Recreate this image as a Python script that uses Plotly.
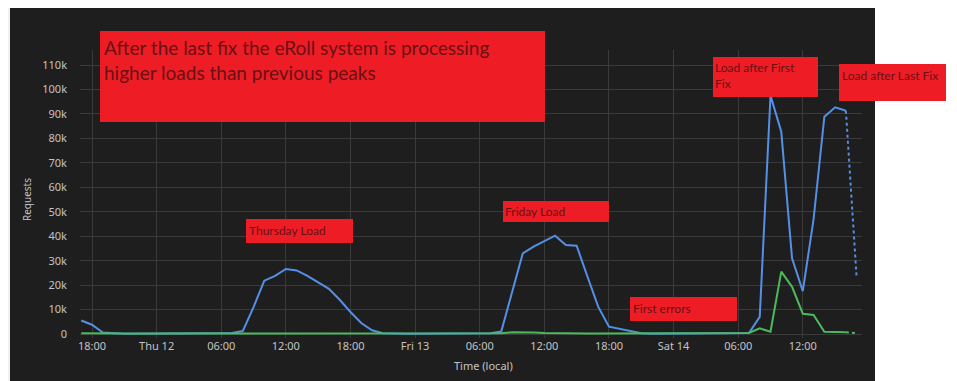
import pandas as pd
import plotly.graph_objects as go

# ---- data (hourly, Wed 11 17:00 -> Sat 14 17:00, local time) ----
start_time = "2020-11-11 17:00"
requests_total = [
    5500, 3800, 600, 200,                                      # Wed 17-20
    100, 100, 100, 100, 100, 100, 100, 100, 100, 100,          # Wed 21 - Thu 06
    400, 1200, 11000, 21800, 23800, 26600, 26000, 23800,       # Thu 07-14
    21200, 18500, 14000, 9000, 4500, 1500, 300,                # Thu 15-21
    100, 100, 100, 100, 100, 100, 100, 100, 100,               # Thu 22 - Fri 06
    300, 1000, 17000, 33000, 35700, 38000, 40200, 36400,       # Fri 07-14
    36100, 23500, 11200, 3000, 2000, 1000, 300,                # Fri 15-21
    100, 100, 100, 100, 100, 100, 100, 100, 100,               # Fri 22 - Sat 06
    400, 7000, 97500, 82700, 31000, 17500, 47000, 88900,       # Sat 07-14
    92700, 91300, 22800,                                       # Sat 15-17
]
requests_failed = [
    300, 200, 200, 200,
    200, 200, 200, 200, 200, 200, 200, 200, 200, 200,
    200, 300, 400, 400, 300, 200, 200, 200,
    200, 200, 200, 200, 200, 200, 200,
    200, 200, 200, 200, 200, 200, 200, 200, 200,
    200, 300, 700, 800, 600, 400, 300, 200,
    200, 200, 200, 200, 200, 200, 200,
    200, 200, 200, 200, 200, 200, 200, 200, 200,
    400, 2300, 900, 25500, 19300, 8300, 7800, 900,
    800, 700, 300,
]
times = list(pd.date_range(start_time, periods=len(requests_total), freq="h"))

x_tick_vals = ["2020-11-11 18:00", "2020-11-12 00:00", "2020-11-12 06:00", "2020-11-12 12:00",
               "2020-11-12 18:00", "2020-11-13 00:00", "2020-11-13 06:00", "2020-11-13 12:00",
               "2020-11-13 18:00", "2020-11-14 00:00", "2020-11-14 06:00", "2020-11-14 12:00"]
x_tick_text = ["18:00", "Thu 12", "06:00", "12:00", "18:00", "Fri 13", "06:00", "12:00",
               "18:00", "Sat 14", "06:00", "12:00"]
y_tick_vals = [0, 10000, 20000, 30000, 40000, 50000, 60000, 70000, 80000, 90000, 100000, 110000]
y_tick_text = ["0", "10k", "20k", "30k", "40k", "50k", "60k", "70k", "80k", "90k", "100k", "110k"]

annotation_texts = [
    "After the last fix the eRoll system is processing<br>higher loads than previous peaks",
    "Thursday Load",
    "Friday Load",
    "First errors",
    "Load after First<br>Fix",
    "Load after Last Fix",
]

# ---- layout geometry (pixels, in page coordinates; the page body adds an 8px offset) ----
OFF = 8
W, H = 957 - OFF, 381 - OFF
L, R, T, B = 80, 862, 50, 338          # plot area in page coordinates
PW, PH = R - L, B - T


def px(x):
    return (x - L) / PW


def py(y):
    return (B - y) / PH


BLUE = "#5490e6"
GREEN = "#4cba5c"
TICK = "#c4c4c4"
GRID = "#3a3a3a"
PANEL = "#1e1e1e"
BOX = "#ee1d25"
BOXTEXT = "#6a1014"

fig = go.Figure()
fig.add_trace(go.Scatter(x=times[:-1], y=requests_total[:-1], mode="lines",
                         line=dict(color=BLUE, width=2), name="Requests"))
fig.add_trace(go.Scatter(x=times[-2:], y=requests_total[-2:], mode="lines",
                         line=dict(color=BLUE, width=2, dash="dot"), showlegend=False))
fig.add_trace(go.Scatter(x=times[:-1], y=requests_failed[:-1], mode="lines",
                         line=dict(color=GREEN, width=2), name="Failed requests"))
fig.add_trace(go.Scatter(x=times[-2:], y=requests_failed[-2:], mode="lines",
                         line=dict(color=GREEN, width=2, dash="dot"), showlegend=False))

shapes = [
    dict(type="rect", xref="paper", yref="paper", x0=px(10), x1=px(875), y0=py(7), y1=py(400),
         fillcolor=PANEL, line=dict(width=0), layer="below"),
    dict(type="rect", xref="paper", yref="paper", x0=px(875), x1=px(970), y0=py(7), y1=py(400),
         fillcolor="#ffffff", line=dict(width=0), layer="below"),
]
# red annotation boxes: (x0, y0, x1, y1) in page pixels
boxes = [(100, 31, 545, 122), (246, 219, 353, 243), (503, 201, 609, 222),
         (630, 297, 737, 321), (713, 57, 818, 97), (839, 64, 946, 101)]
text_pos = [(102, 34, 19), (247, 221, 12), (503, 202, 12), (631, 299, 12), (713, 58, 12), (840, 66, 12)]
for (x0, y0, x1, y1) in boxes:
    shapes.append(dict(type="rect", xref="paper", yref="paper", x0=px(x0), x1=px(x1),
                       y0=py(y1), y1=py(y0), fillcolor=BOX, line=dict(width=0), layer="above"))

annotations = []
for txt, (tx, ty, fs) in zip(annotation_texts, text_pos):
    annotations.append(dict(text=txt, xref="paper", yref="paper", x=px(tx), y=py(ty),
                            xanchor="left", yanchor="top", align="left", showarrow=False,
                            font=dict(family="Lato", size=fs, color=BOXTEXT)))
annotations.append(dict(text="Requests", xref="paper", yref="paper", x=px(27), y=py(200),
                        textangle=-90, showarrow=False, xanchor="center", yanchor="middle",
                        font=dict(family="Noto Sans", size=10, color=TICK)))
annotations.append(dict(text="Time (local)", xref="paper", yref="paper", x=px(483), y=py(365),
                        showarrow=False, xanchor="center", yanchor="middle",
                        font=dict(family="Noto Sans", size=11, color=TICK)))

y_low = -(B - 334) / 2.445 * 1000
y_high = (334 - T) / 2.445 * 1000
x_left = pd.Timestamp("2020-11-11 18:00") + pd.Timedelta(hours=(L - 92) / 10.77)
x_right = pd.Timestamp("2020-11-11 18:00") + pd.Timedelta(hours=(R - 92) / 10.77)

fig.update_layout(
    width=W, height=H,
    margin=dict(l=L - OFF, r=957 - R, t=T - OFF, b=381 - B, pad=0),
    paper_bgcolor="#f0f0f0", plot_bgcolor=PANEL,
    showlegend=False,
    shapes=shapes, annotations=annotations,
    xaxis=dict(range=[x_left, x_right], tickvals=x_tick_vals, ticktext=x_tick_text,
               showgrid=True, gridcolor=GRID, gridwidth=1, zeroline=False, showline=False,
               tickfont=dict(family="Noto Sans", size=11, color=TICK), ticks=""),
    yaxis=dict(range=[y_low, y_high], tickvals=y_tick_vals, ticktext=y_tick_text,
               showgrid=True, gridcolor=GRID, gridwidth=1, zeroline=False, showline=False,
               tickfont=dict(family="Noto Sans", size=11, color=TICK), ticks="",
               ticklabelstandoff=12),
)

fig.write_html("out.html")
